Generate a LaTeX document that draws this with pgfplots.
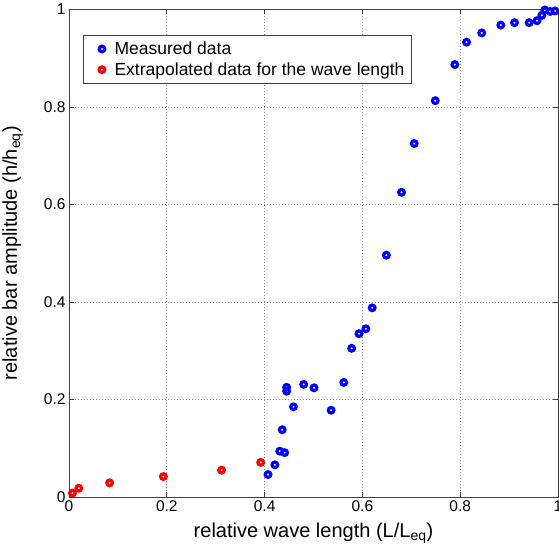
\documentclass[border=0pt]{standalone}
\usepackage{fontspec}
\setmainfont{Liberation Sans}
\usepackage{pgfplots}
\pgfplotsset{compat=1.18}
\begin{document}
\begin{tikzpicture}
\begin{axis}[
  name=ax,
  scale only axis,
  width=489bp, height=487.5bp,
  xmin=0, xmax=1, ymin=0, ymax=1,
  xtick={0,0.2,0.4,0.6,0.8,1},
  ytick={0,0.2,0.4,0.6,0.8,1},
  grid=major,
  grid style={dash pattern=on 0.8bp off 2.2bp, black!45, line width=0.7bp},
  axis line style={black!75, line width=0.8bp},
  tick style={black!75, line width=0.8bp},
  tick align=inside,
  major tick length=5bp,
  ticklabel style={font=\fontsize{15.5bp}{17bp}\selectfont},
  /pgf/number format/assume math mode=true,
  xlabel={relative wave length (L/L\textsubscript{eq})},
  ylabel={relative bar amplitude (h/h\textsubscript{eq})},
  label style={font=\fontsize{20bp}{22bp}\selectfont},
  xlabel style={at={([yshift=-40bp]axis description cs:0.5,0)}, anchor=base},
  ylabel style={at={([xshift=-52bp]axis description cs:0,0.5)}, anchor=base},
  legend style={at={(axis description cs:0.0286,0.9477)}, anchor=north west,
    draw=black!75, line width=0.8bp, fill=white,
    font=\fontsize{17.5bp}{20bp}\selectfont, inner xsep=5bp, inner ysep=4.5bp,
    row sep=2.5bp},
  legend cell align=left,
  legend image code/.code={\path (0bp,0bp) (21bp,0bp); \draw[#1, mark repeat=1] plot coordinates {(12bp,0bp)};},
]
\addplot[only marks, mark=o, mark size=2.8bp, line width=3.2bp, color={rgb,255:red,0;green,0;blue,255}] coordinates {
(0.407,0.046) (0.421,0.066) (0.431,0.094) (0.441,0.091) (0.436,0.138)
(0.445,0.225) (0.445,0.217) (0.459,0.185) (0.480,0.231) (0.501,0.224)
(0.536,0.178) (0.562,0.235) (0.578,0.305) (0.593,0.335) (0.607,0.345)
(0.620,0.388) (0.649,0.496) (0.680,0.625) (0.706,0.725) (0.749,0.813)
(0.789,0.887) (0.813,0.933) (0.844,0.952) (0.883,0.968) (0.911,0.973)
(0.941,0.973) (0.957,0.977) (0.967,0.988) (0.973,0.999) (0.984,0.996)
(0.994,0.997)
};
\addlegendentry{Measured data}
\addplot[only marks, mark=o, mark size=2.8bp, line width=3.2bp, color={rgb,255:red,255;green,0;blue,0}] coordinates {
(0.007,0.008) (0.020,0.018) (0.083,0.029) (0.193,0.042) (0.312,0.055) (0.392,0.071)
};
\addlegendentry{Extrapolated data for the wave length}
\end{axis}
\pgfresetboundingbox
\path[use as bounding box] ([shift={(-69bp,-54bp)}]ax.south west) rectangle ([shift={(1bp,9.5bp)}]ax.north east);
\end{tikzpicture}
\end{document}
